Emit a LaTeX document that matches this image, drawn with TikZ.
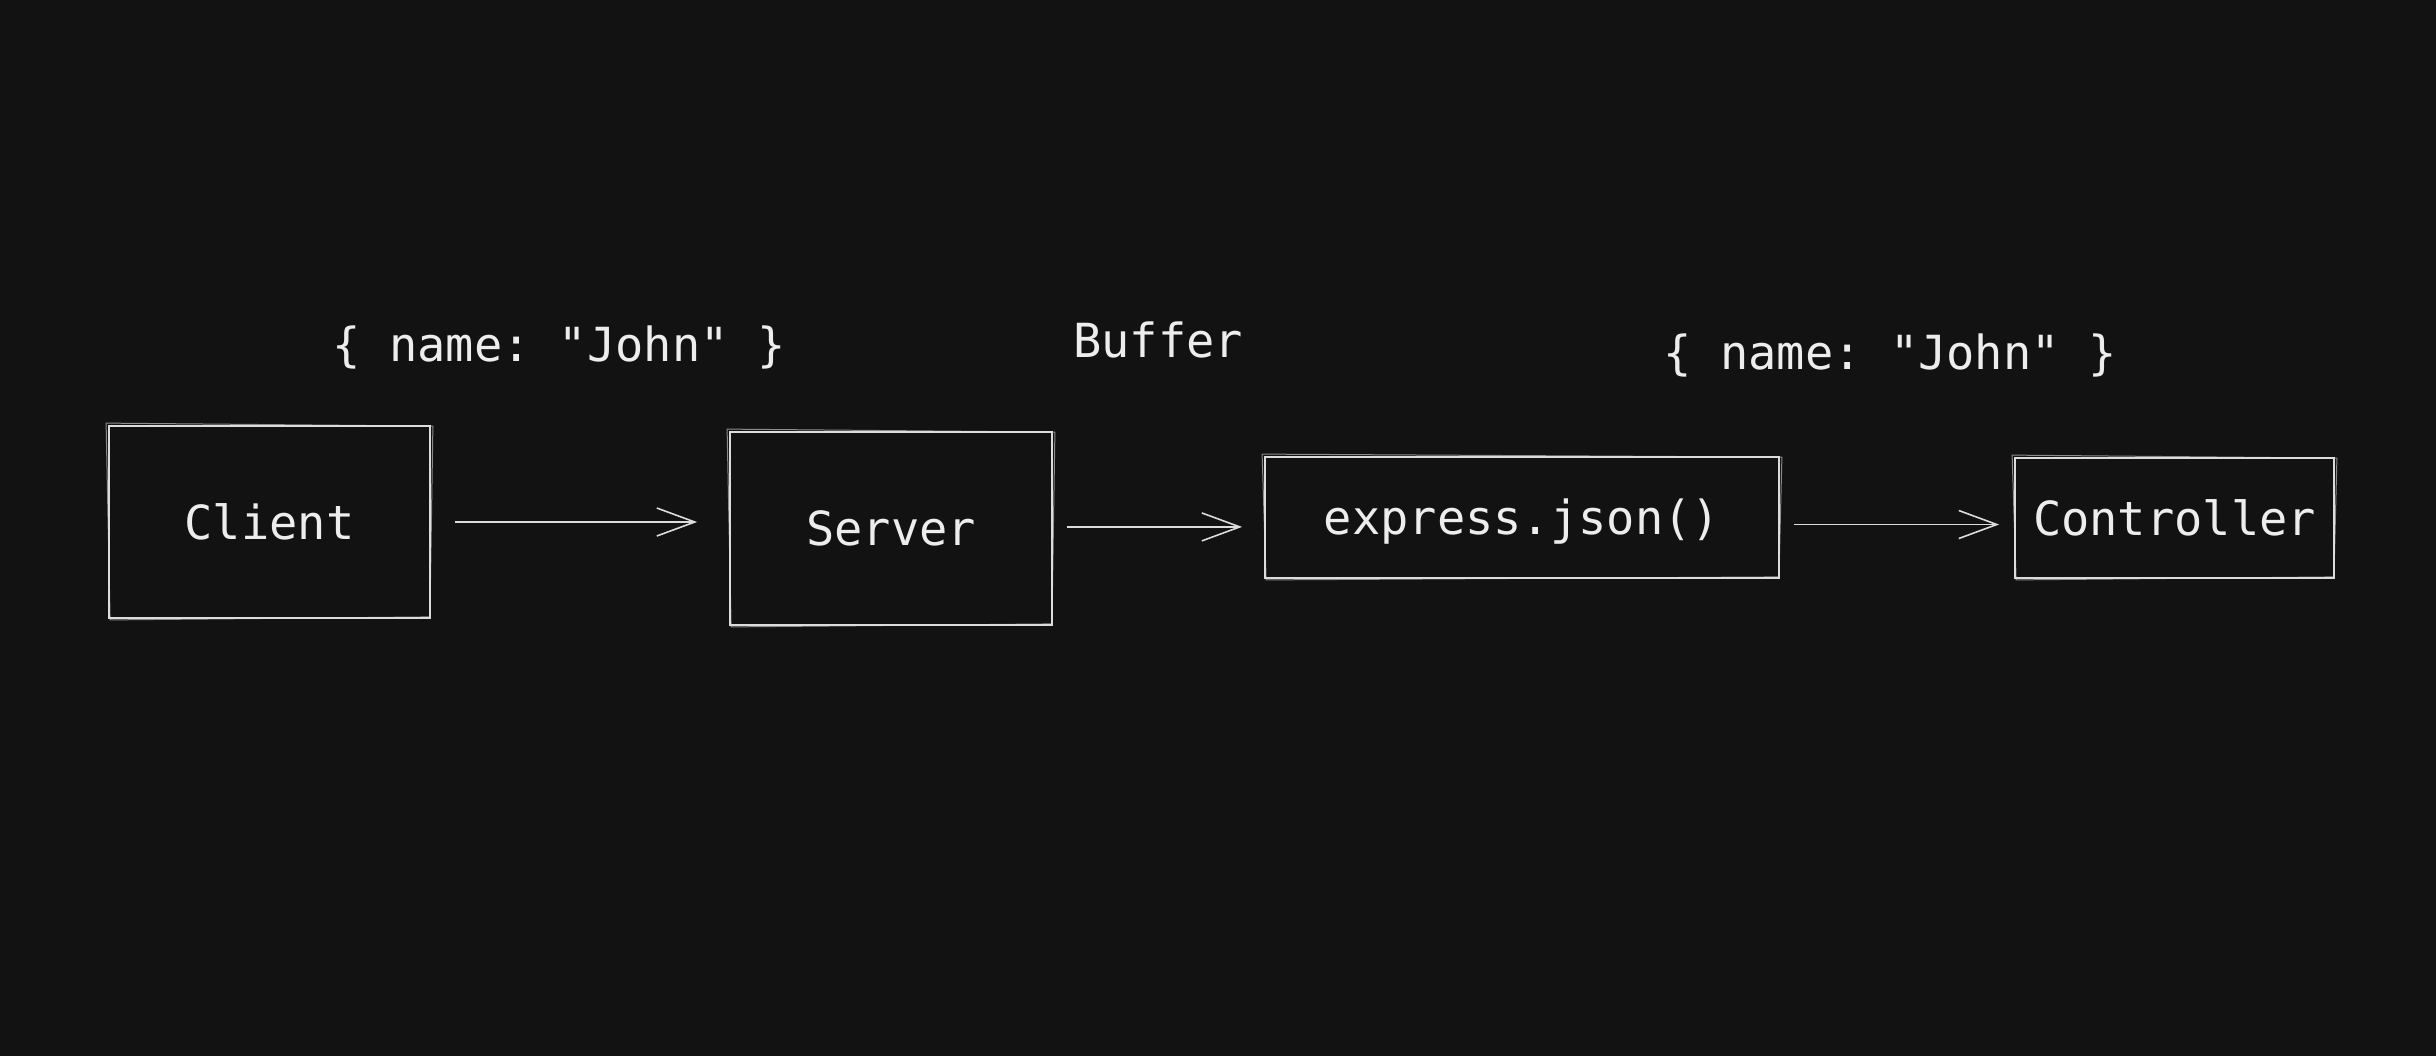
\documentclass[tikz,border=0pt]{standalone}
\usepackage{fontspec}
\setmonofont{DejaVu Sans Mono}
\usetikzlibrary{arrows.meta}
\definecolor{bg}{HTML}{121212}
\definecolor{ink}{HTML}{DCDCDC}
\definecolor{txt}{HTML}{EDEDED}
\tikzset{
  box/.style={draw=ink, line width=0.9pt, rectangle, inner sep=0pt, text=txt,
    font=\ttfamily\fontsize{23.5}{28}\selectfont, text height=17.2pt, text depth=0pt},
  lbl/.style={inner sep=0pt, text=txt,
    font=\ttfamily\fontsize{23.5}{28}\selectfont, text height=17.2pt, text depth=0pt},
  flow/.style={draw=ink, line width=0.9pt, -{Straight Barb[length=19pt,width=14pt,line width=0.8pt]}},
  ghost/.style={draw=ink, line width=0.5pt, opacity=0.6}
}
\begin{document}
\begin{tikzpicture}[x=0.5pt,y=-0.5pt]
  \fill[bg] (0,0) rectangle (2436,1056);
  \useasboundingbox (0,0) rectangle (2436,1056);

  \node[box, minimum width=160.5pt, minimum height=96pt]   (client)     at (269.5,522)  {Client};
  \node[box, minimum width=161pt,   minimum height=96.5pt] (server)     at (891,528.5)  {Server};
  \node[box, minimum width=257pt,   minimum height=60.5pt] (express)    at (1522,517.5) {express.json()};
  \node[box, minimum width=159.5pt, minimum height=60pt]   (controller) at (2174.5,518) {Controller};

  \foreach \n in {client,server,express,controller}{
    \draw[ghost] ([shift={(-1pt,1pt)}]\n.north west) -- ([shift={(1pt,-0.5pt)}]\n.north east)
      -- ([shift={(-0.5pt,1pt)}]\n.south east) -- ([shift={(1pt,-0.5pt)}]\n.south west) -- cycle;
  }

  \node[lbl] (json1)  at (559,344)  {\{ name: "John" \}};
  \node[lbl] (buffer) at (1158,340) {Buffer};
  \node[lbl] (json2)  at (1890,352) {\{ name: "John" \}};

  \draw[flow, shorten <=12pt, shorten >=16pt] (client.east) -- (client.east -| server.west);
  \draw[flow, shorten <=7pt, shorten >=11pt] ([yshift=0.8pt]server.east) -- ([yshift=0.8pt]server.east -| express.west);
  \draw[flow, shorten <=7pt, shorten >=7.5pt] ([yshift=-3.5pt]express.east) -- ([yshift=-3.5pt]express.east -| controller.west);
\end{tikzpicture}
\end{document}
